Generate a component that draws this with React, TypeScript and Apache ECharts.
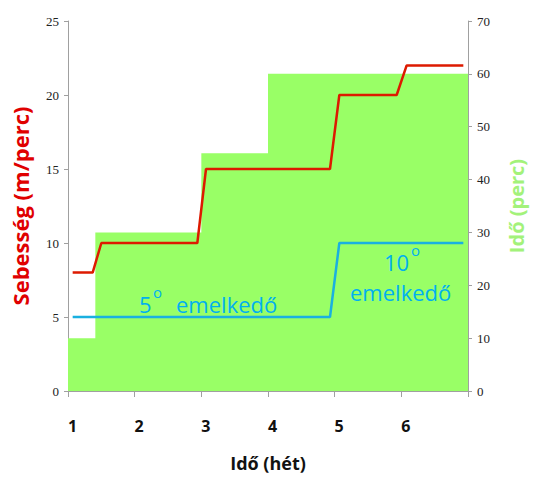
import React, { useEffect, useRef } from "react";
import * as echarts from "echarts";

// x positions (weeks) and values
const timeSteps: [number, number][] = [
  [1, 10],
  [1.41, 30],
  [3, 45],
  [4, 60],
  [7, 60],
];
const speedLine: [number, number][] = [
  [1.07, 8],
  [1.37, 8],
  [1.5, 10],
  [2.94, 10],
  [3.07, 15],
  [4.93, 15],
  [5.07, 20],
  [5.93, 20],
  [6.08, 22],
  [6.93, 22],
];
const inclineLine: [number, number][] = [
  [1.07, 5],
  [4.93, 5],
  [5.07, 10],
  [6.93, 10],
];
const xTickLabels = ["1", "2", "3", "4", "5", "6", ""];

const BLUE_TEXT = "#00b0f0";
const FONT = "'Open Sans', 'Liberation Sans', sans-serif";

export default function App() {
  const ref = useRef<HTMLDivElement>(null);
  useEffect(() => {
    if (!ref.current) return;
    const chart = echarts.init(ref.current, null, { renderer: "svg" });
    chart.setOption({
      animation: false,
      backgroundColor: "#ffffff",
      grid: { left: 68, right: 61, top: 21, bottom: 82, containLabel: false },
      xAxis: {
        type: "value",
        min: 1,
        max: 7,
        interval: 1,
        name: "Idő (hét)",
        nameLocation: "middle",
        nameGap: 63,
        nameTextStyle: { fontFamily: FONT, fontWeight: "bold", fontSize: 18, color: "#111" },
        axisLine: { show: true, lineStyle: { color: "#a0a0a0", width: 1 } },
        axisTick: { show: true, length: 6, lineStyle: { color: "#a0a0a0" } },
        splitLine: { show: false },
        axisLabel: {
          margin: 27,
          fontFamily: FONT,
          fontWeight: "bold",
          fontSize: 16,
          color: "#111",
          padding: [0, 0, 0, 9],
          formatter: (v: number) => xTickLabels[Math.round(v) - 1] ?? "",
        },
      },
      yAxis: [
        {
          type: "value",
          min: 0,
          max: 25,
          interval: 5,
          position: "left",
          name: "Sebesség (m/perc)",
          nameLocation: "middle",
          nameGap: 37,
          nameRotate: 90,
          nameTextStyle: { fontFamily: FONT, fontWeight: "bold", fontSize: 22, color: "#e00000" },
          axisLine: { show: true, lineStyle: { color: "#a0a0a0", width: 1 } },
          axisTick: { show: true, length: 4, lineStyle: { color: "#a0a0a0" } },
          splitLine: { show: false },
          axisLabel: { margin: 9, fontFamily: "'Liberation Serif', serif", fontSize: 13, color: "#222" },
        },
        {
          type: "value",
          min: 0,
          max: 70,
          interval: 10,
          position: "right",
          name: "Idő (perc)",
          nameLocation: "middle",
          nameGap: 38,
          nameRotate: 90,
          nameTextStyle: { fontFamily: FONT, fontWeight: "bold", fontSize: 20, color: "#a3f27a" },
          axisLine: { show: true, lineStyle: { color: "#a0a0a0", width: 1 } },
          axisTick: { show: true, length: 4, lineStyle: { color: "#a0a0a0" } },
          splitLine: { show: false },
          axisLabel: { margin: 9, fontFamily: "'Liberation Serif', serif", fontSize: 13, color: "#222" },
        },
      ],
      series: [
        {
          type: "line",
          yAxisIndex: 1,
          data: timeSteps,
          step: "end",
          showSymbol: false,
          symbol: "none",
          lineStyle: { width: 0, color: "#99ff66" },
          itemStyle: { color: "#99ff66" },
          areaStyle: { color: "#99ff66", opacity: 1 },
          z: 1,
        },
        {
          type: "line",
          yAxisIndex: 0,
          data: speedLine,
          showSymbol: false,
          symbol: "none",
          lineStyle: { width: 2.5, color: "#dd1a00" },
          itemStyle: { color: "#dd1a00" },
          z: 3,
        },
        {
          type: "line",
          yAxisIndex: 0,
          data: inclineLine,
          showSymbol: false,
          symbol: "none",
          lineStyle: { width: 2.5, color: "#1ab0e0" },
          itemStyle: { color: "#1ab0e0" },
          z: 3,
        },
      ],
      graphic: [
        { type: "text", left: 139, top: 293, z: 10, style: { text: "5", fontFamily: FONT, fontSize: 22, fill: BLUE_TEXT } },
        { type: "text", left: 153, top: 284, z: 10, style: { text: "o", fontFamily: FONT, fontSize: 15, fill: BLUE_TEXT } },
        { type: "text", left: 176, top: 293, z: 10, style: { text: "emelkedő", fontFamily: FONT, fontSize: 22, fill: BLUE_TEXT } },
        { type: "text", left: 384, top: 251, z: 10, style: { text: "10", fontFamily: FONT, fontSize: 22, fill: BLUE_TEXT } },
        { type: "text", left: 411, top: 242, z: 10, style: { text: "o", fontFamily: FONT, fontSize: 15, fill: BLUE_TEXT } },
        { type: "text", left: 350, top: 281, z: 10, style: { text: "emelkedő", fontFamily: FONT, fontSize: 22, fill: BLUE_TEXT } },
      ],
    });
    return () => chart.dispose();
  }, []);
  return (
    <div
      ref={ref}
      style={{ position: "fixed", left: 0, top: 0, width: 534, height: 477 }}
    />
  );
}
